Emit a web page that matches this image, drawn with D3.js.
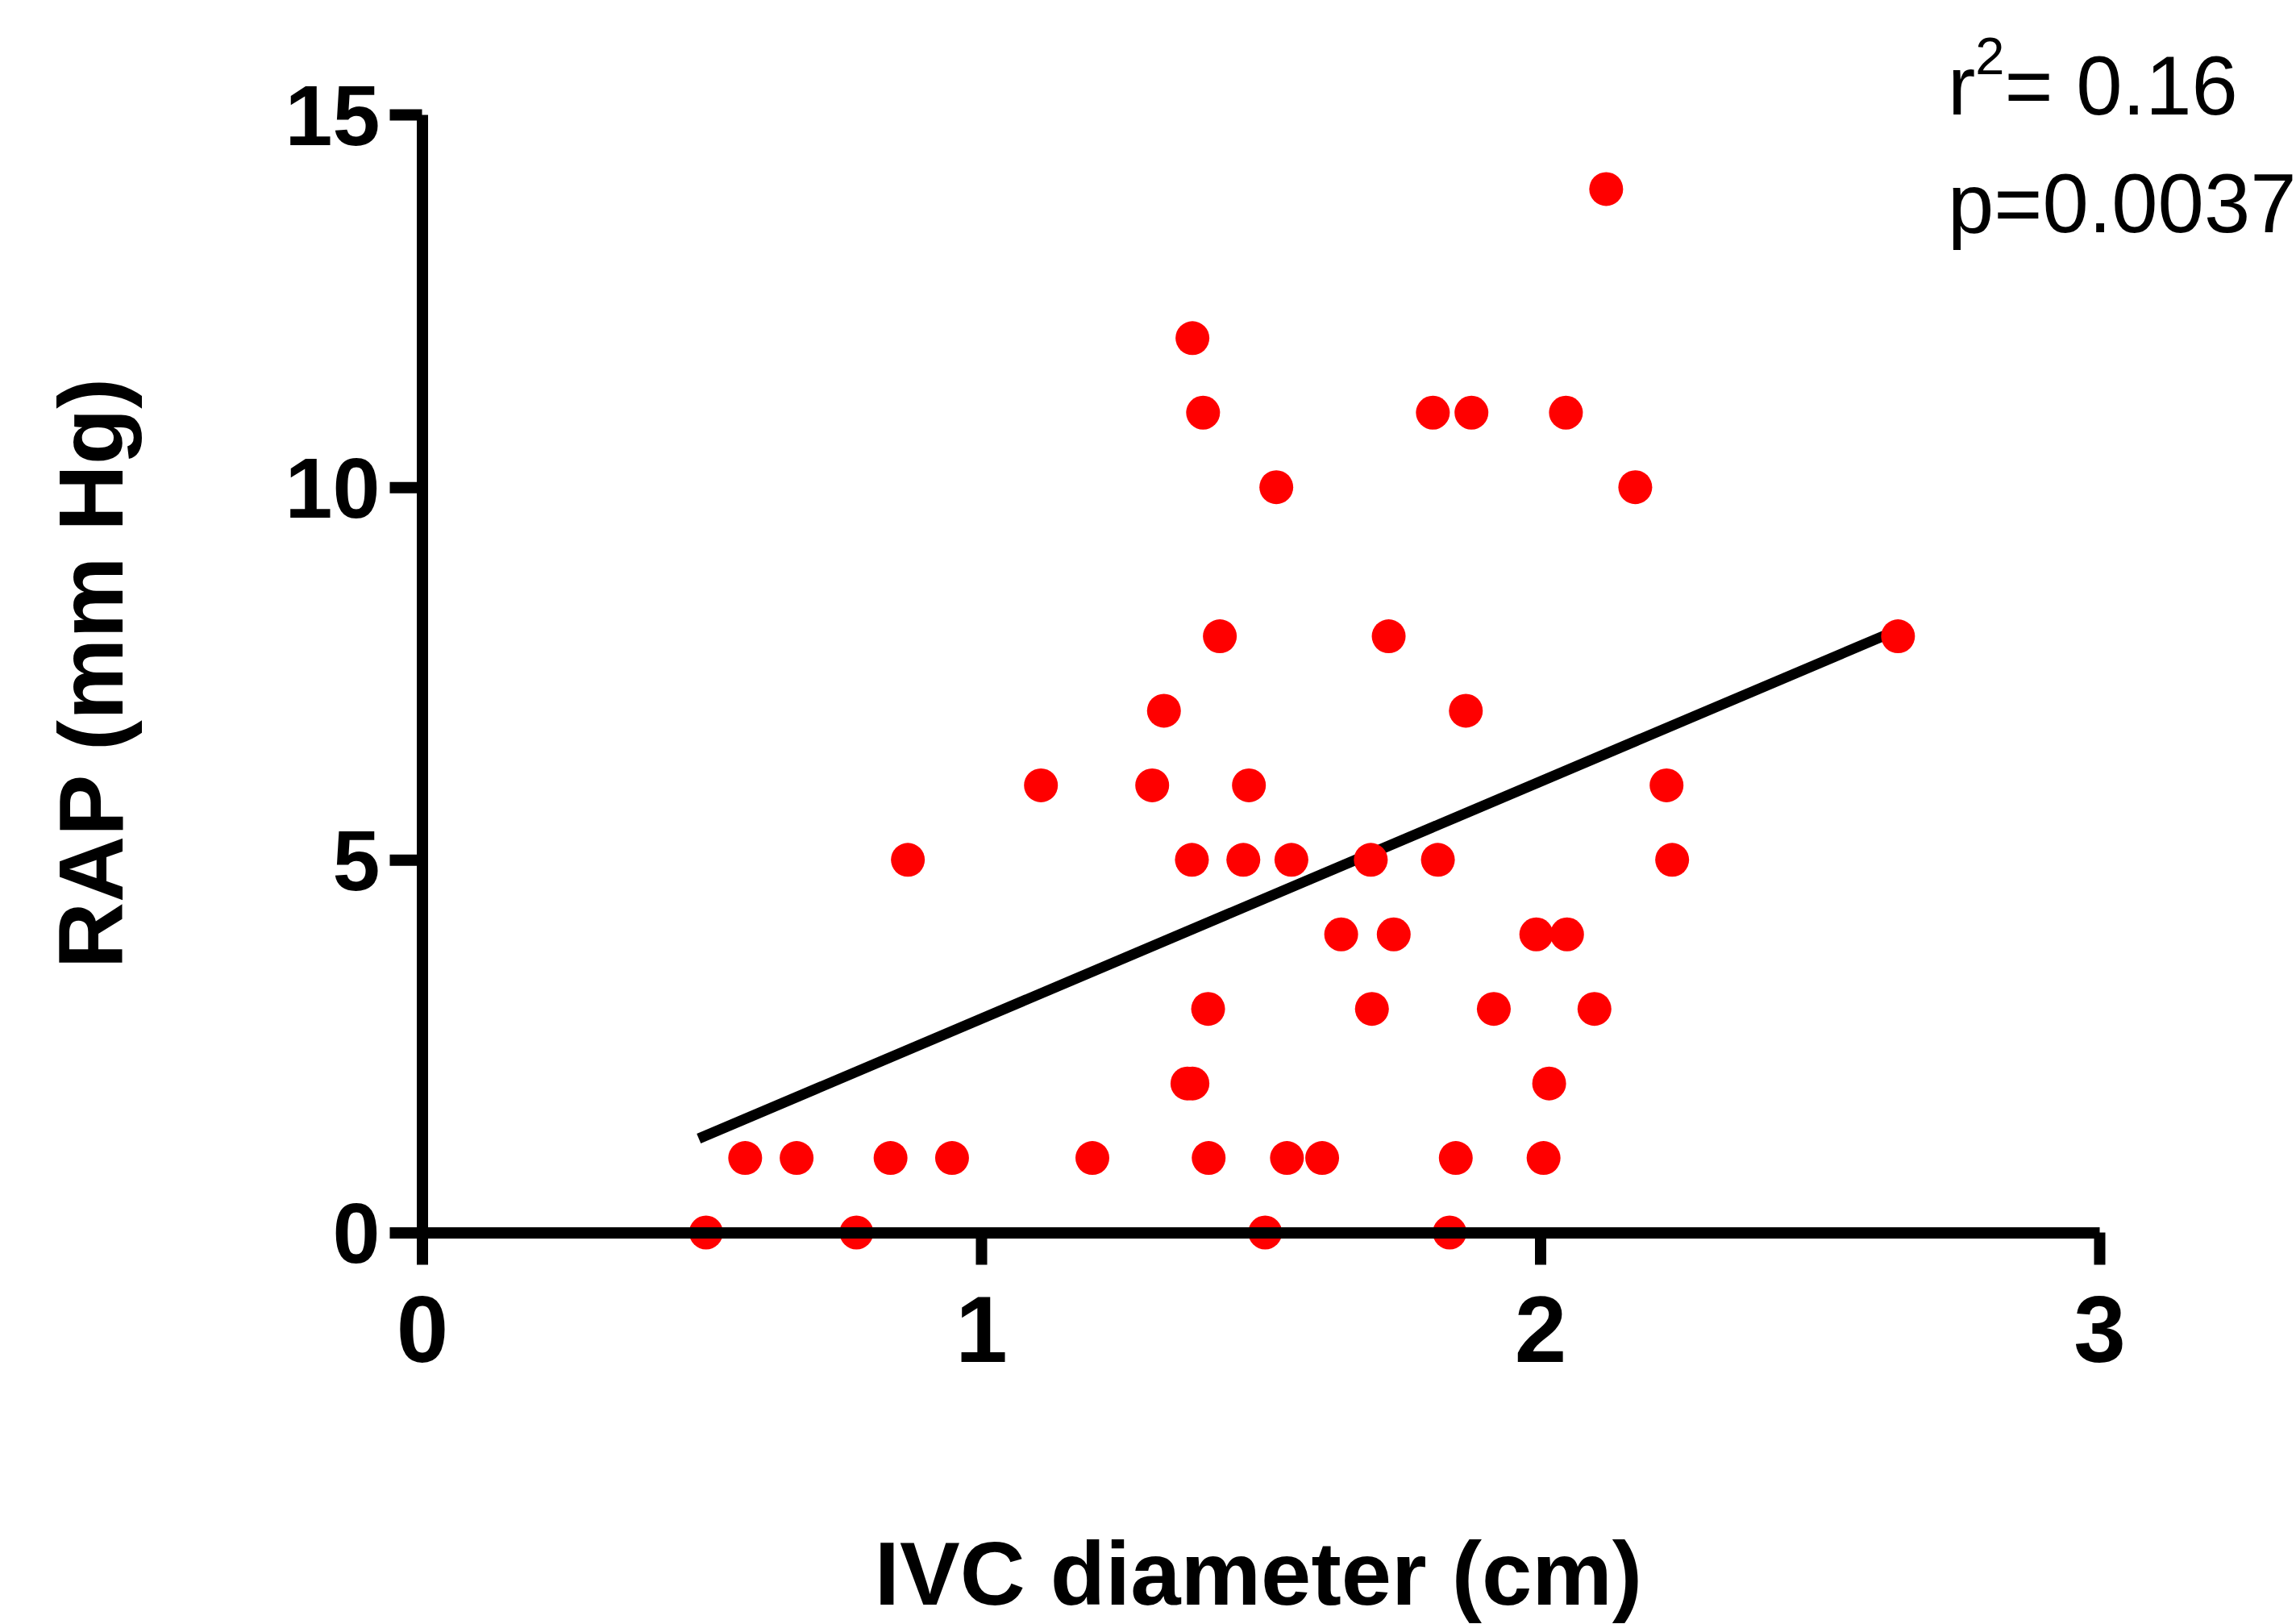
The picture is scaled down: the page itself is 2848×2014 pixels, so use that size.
<!DOCTYPE html>
<html>
<head>
<meta charset="utf-8">
<script src="https://cdn.jsdelivr.net/npm/d3@7"></script>
<style>
  body { margin: 0; background: #fff; }
  svg { display: block; font-family: "Liberation Sans", Arial, sans-serif; }
</style>
</head>
<body>
<div id="scatter"></div>
<script>
// IVC diameter (cm), grouped by RAP row
var ivc = [
  2.118,
  1.378,
  1.397, 1.808, 1.877, 2.046,
  1.528, 2.170,
  1.427, 1.729, 2.640,
  1.327, 1.867,
  1.107, 1.306, 1.479, 2.226,
  0.869, 1.377, 1.469, 1.555, 1.697, 1.817, 2.236,
  1.644, 1.738, 1.993, 2.048,
  1.406, 1.699, 1.917, 2.097,
  1.369, 1.378, 2.016,
  0.578, 0.670, 0.838, 0.948, 1.199, 1.407, 1.547, 1.610, 1.849, 2.006,
  0.508, 0.777, 1.508, 1.838
];
// RAP (mm Hg) for each point above
var rap = [
  14,
  12,
  11, 11, 11, 11,
  10, 10,
  8, 8, 8,
  7, 7,
  6, 6, 6, 6,
  5, 5, 5, 5, 5, 5, 5,
  4, 4, 4, 4,
  3, 3, 3, 3,
  2, 2, 2,
  1, 1, 1, 1, 1, 1, 1, 1, 1, 1,
  0, 0, 0, 0
];
// regression line ends, as drawn
var fitX = [0.495, 2.616];
var fitY = [1.26, 8.01];

var xTicks = [0, 1, 2, 3];
var yTicks = [0, 5, 10, 15];
var statLines = ["= 0.16", "p=0.0037"];

function Plot() {
    var svgWidth = 2848;
    var svgHeight = 2014;

    var svg = d3.select("#scatter")
        .append("svg")
        .attr("width", svgWidth)
        .attr("height", svgHeight);

    // scales (pixel range taken from the reference axes)
    var x = d3.scaleLinear().domain([0, 3]).range([523.5, 2604]);
    var y = d3.scaleLinear().domain([0, 15]).range([1528.5, 142]);

    var points = ivc.map(function(d, i) { return { x: d, y: rap[i] }; });

    // fit line first, dots on top
    var fit = fitX.map(function(d, i) { return [d, fitY[i]]; });
    svg.append("path")
        .datum(fit)
        .attr("d", d3.line().x(d => x(d[0])).y(d => y(d[1])))
        .attr("fill", "none")
        .attr("stroke", "#000")
        .style("stroke-width", "13px");

    svg.append("g")
        .selectAll("circle")
        .data(points)
        .enter()
        .append("circle")
        .attr("cx", d => x(d.x))
        .attr("cy", d => y(d.y))
        .attr("r", 21)
        .attr("fill", "#ff0000");

    // axes
    var xAxis = svg.append("g")
        .attr("transform", `translate(0, ${y(0)})`)
        .call(d3.axisBottom(x).tickValues(xTicks).tickFormat(d3.format("d"))
            .tickSize(40).tickSizeOuter(0).tickPadding(38));

    var yAxis = svg.append("g")
        .attr("transform", `translate(${x(0)}, 0)`)
        .call(d3.axisLeft(y).tickValues(yTicks).tickFormat(d3.format("d"))
            .tickSize(40).tickSizeOuter(0).tickPadding(12));

    [xAxis, yAxis].forEach(function(g) {
        g.selectAll("path, line")
            .attr("stroke", "#000")
            .style("stroke-width", "14px");
        g.selectAll("text")
            .attr("fill", "#000")
            .attr("font-family", "Liberation Sans, Arial, sans-serif")
            .attr("font-weight", "bold");
    });
    xAxis.selectAll("text").attr("font-size", 116);
    yAxis.selectAll("text").attr("font-size", 106).attr("dy", "0.35em");

    // axis titles
    svg.append("text")
        .attr("x", 1561)
        .attr("y", 1990)
        .attr("text-anchor", "middle")
        .attr("font-size", 112)
        .attr("font-weight", "bold")
        .text("IVC diameter (cm)");

    svg.append("text")
        .attr("transform", "translate(152, 835) rotate(-90)")
        .attr("text-anchor", "middle")
        .attr("font-size", 114)
        .attr("font-weight", "bold")
        .text("RAP (mm Hg)");

    // statistics in the corner
    var r2 = svg.append("text")
        .attr("x", 2416)
        .attr("y", 142)
        .attr("font-size", 103);
    r2.append("tspan").text("r");
    r2.append("tspan")
        .attr("font-size", 65)
        .attr("dy", -50)
        .text("2");
    r2.append("tspan")
        .attr("dy", 50)
        .text(statLines[0]);

    svg.append("text")
        .attr("x", 2416)
        .attr("y", 288)
        .attr("font-size", 103)
        .text(statLines[1]);
}

Plot();
</script>
</body>
</html>
